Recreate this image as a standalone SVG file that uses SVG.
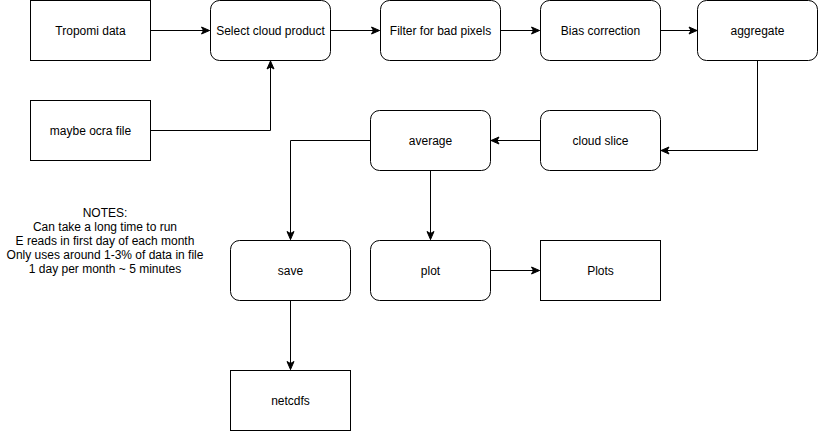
<svg xmlns="http://www.w3.org/2000/svg" width="818" height="431" viewBox="0 0 818 431">
<defs>
<marker id="arr" markerUnits="userSpaceOnUse" markerWidth="10" markerHeight="10" viewBox="0 0 10 10" refX="9" refY="5" orient="auto">
<path d="M1,1.5 L9,5 L1,8.5 L3,5 Z" fill="#000" stroke="#000" stroke-width="1"/>
</marker>
<style>
.n{fill:#fff;stroke:#000;stroke-width:1}
.t{font-family:"Liberation Sans",Arial,Helvetica,sans-serif;font-size:12px;fill:#000;text-anchor:middle;dominant-baseline:central}
.c{fill:none;stroke:#000;stroke-width:1;marker-end:url(#arr)}
</style>
</defs>
<rect width="818" height="431" fill="#fff"/>
<g id="connectors">
<path class="c" d="M150.5,30.5 H209.5"/>
<path class="c" d="M150.5,130.5 H270.5 V61"/>
<path class="c" d="M330.5,30.5 H379.5"/>
<path class="c" d="M500.5,30.5 H539.5"/>
<path class="c" d="M660.5,30.5 H697"/>
<path class="c" d="M757.5,60.5 V150.5 H661"/>
<path class="c" d="M540.5,140.5 H491"/>
<path class="c" d="M370.5,140.5 H290.5 V239.5"/>
<path class="c" d="M430.5,170.5 V239.5"/>
<path class="c" d="M490.5,270.5 H539.5"/>
<path class="c" d="M290.5,300.5 V369.5"/>
</g>
<g id="tropomi"><rect class="n" x="30.5" y="0.5" width="120" height="60"/><text class="t" x="90.5" y="30.5">Tropomi data</text></g>
<g id="select"><rect class="n" x="210.5" y="0.5" width="120" height="60" rx="9"/><text class="t" x="270.5" y="30.5">Select cloud product</text></g>
<g id="filter"><rect class="n" x="380.5" y="0.5" width="120" height="60" rx="9"/><text class="t" x="440.5" y="30.5">Filter for bad pixels</text></g>
<g id="bias"><rect class="n" x="540.5" y="0.5" width="120" height="60" rx="9"/><text class="t" x="600.5" y="30.5">Bias correction</text></g>
<g id="aggregate"><rect class="n" x="697.5" y="0.5" width="120" height="60" rx="9"/><text class="t" x="757.5" y="30.5">aggregate</text></g>
<g id="ocra"><rect class="n" x="30.5" y="100.5" width="120" height="60"/><text class="t" x="90.5" y="130.5">maybe ocra file</text></g>
<g id="average"><rect class="n" x="370.5" y="110.5" width="120" height="60" rx="9"/><text class="t" x="430.5" y="140.5">average</text></g>
<g id="cloudslice"><rect class="n" x="540.5" y="110.5" width="120" height="60" rx="9"/><text class="t" x="600.5" y="140.5">cloud slice</text></g>
<g id="save"><rect class="n" x="230.5" y="240.5" width="120" height="60" rx="9"/><text class="t" x="290.5" y="270.5">save</text></g>
<g id="plot"><rect class="n" x="370.5" y="240.5" width="120" height="60" rx="9"/><text class="t" x="430.5" y="270.5">plot</text></g>
<g id="plots"><rect class="n" x="540.5" y="240.5" width="120" height="60"/><text class="t" x="600.5" y="270.5">Plots</text></g>
<g id="netcdfs"><rect class="n" x="230.5" y="370.5" width="120" height="60"/><text class="t" x="290.5" y="400.5">netcdfs</text></g>
<g id="notes">
<text class="t" x="105" y="213">NOTES:</text>
<text class="t" x="105" y="227">Can take a long time to run</text>
<text class="t" x="105" y="241">E reads in first day of each month</text>
<text class="t" x="105" y="255">Only uses around 1-3% of data in file</text>
<text class="t" x="105" y="269">1 day per month ~ 5 minutes</text>
</g>
</svg>
